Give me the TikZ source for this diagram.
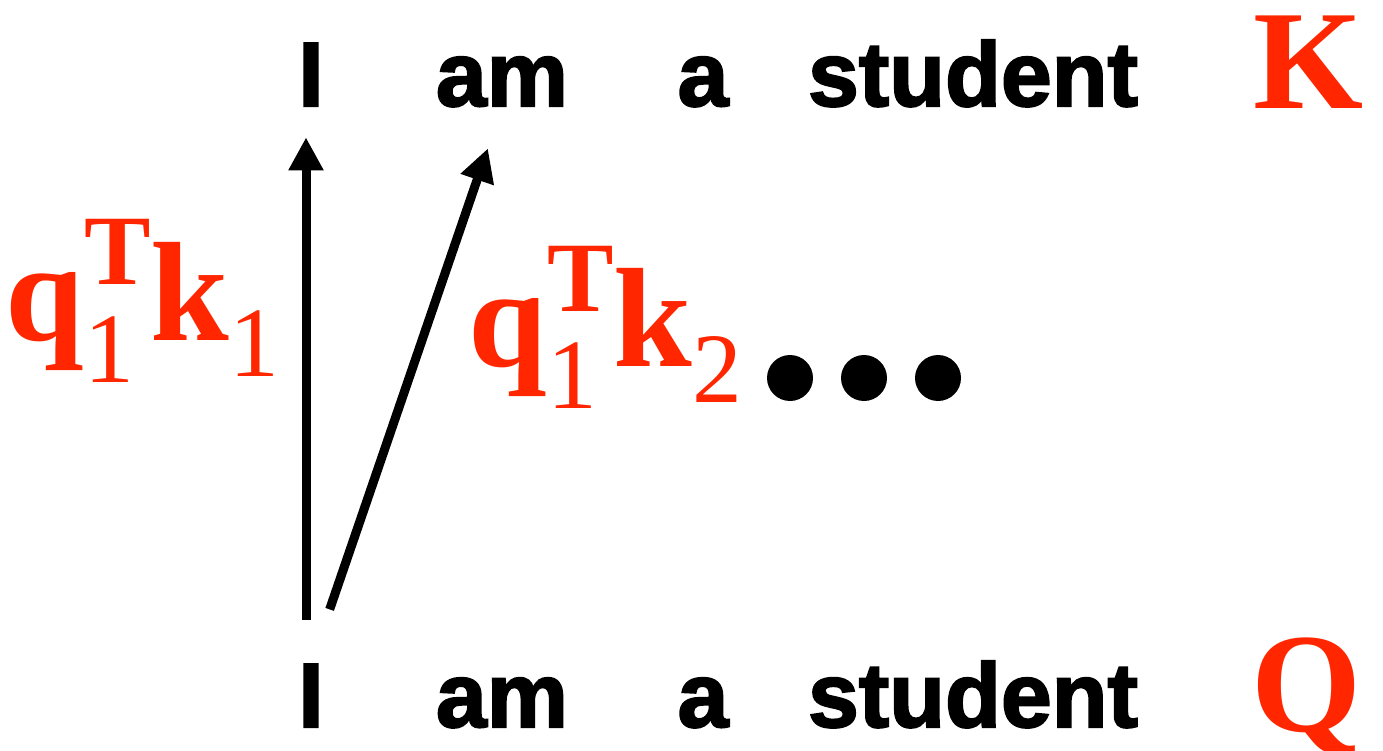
\documentclass[tikz,border=0pt]{standalone}
\usepackage{fontspec}
\usepackage{tikz}
\usetikzlibrary{arrows.meta}
\newfontfamily\wordfont{Liberation Sans}[BoldFeatures={FakeBold=2.2}]
\newfontfamily\redfont{Liberation Serif}
\definecolor{attnred}{RGB}{255,38,0}
% score term q_i^T k_j
\newcommand{\subfnt}{\fontsize{56.7pt}{60pt}\selectfont\mdseries}
\newcommand{\supfnt}{\fontsize{56.7pt}{60pt}\selectfont\bfseries}
\newcommand{\attn}[2]{q\rlap{\raisebox{-0.84cm}{\subfnt #1}}\raisebox{1.1cm}{\supfnt T}k\raisebox{-0.72cm}{\subfnt #2}}

\begin{document}
\begin{tikzpicture}[
    word/.style={anchor=base, inner sep=0pt, font=\wordfont\bfseries\fontsize{52pt}{56pt}\selectfont},
    mat/.style={anchor=base, inner sep=0pt, text=attnred, font=\redfont\bfseries\fontsize{80.5pt}{86pt}\selectfont},
    lab/.style={mat, anchor=base west},
    arr/.style={-{Triangle[width=0.66cm,length=0.66cm]}, line width=0.18cm}
]
\useasboundingbox (0,0) rectangle (27.66,15);
% ---------------- keys ----------------
\node[word] (k1) at (6.22,12.88)  {I};
\node[word] (k2) at (10.04,12.88) {am};
\node[word] (k3) at (14.06,12.88) {a};
\node[word] (k4) at (19.46,12.88) {student};
\node[mat]  (K)  at (26.17,12.82) {K};
% ---------------- queries ----------------
\node[word] (q1) at (6.22,0.46)  {I};
\node[word] (q2) at (10.04,0.46) {am};
\node[word] (q3) at (14.06,0.46) {a};
\node[word] (q4) at (19.46,0.46) {student};
\node[mat]  (Q)  at (26.13,0.38) {Q};
% ---------------- scores ----------------
\draw[arr, shorten <=0.88cm, shorten >=0.62cm] ([xshift=-0.1cm]q1.north) -- ([xshift=-0.1cm]k1.south);
\draw[arr, shorten <=1.15cm, shorten >=0.87cm] (q1.north) -- (k2.south);
\node[lab] (s1) at (0.1,8.2)   {\attn{1}{1}};
\node[lab] (s2) at (9.36,7.68) {\attn{1}{2}};
\fill (15.8,7.44) circle (0.46) (17.28,7.44) circle (0.46) (18.76,7.44) circle (0.46);
\end{tikzpicture}
\end{document}
